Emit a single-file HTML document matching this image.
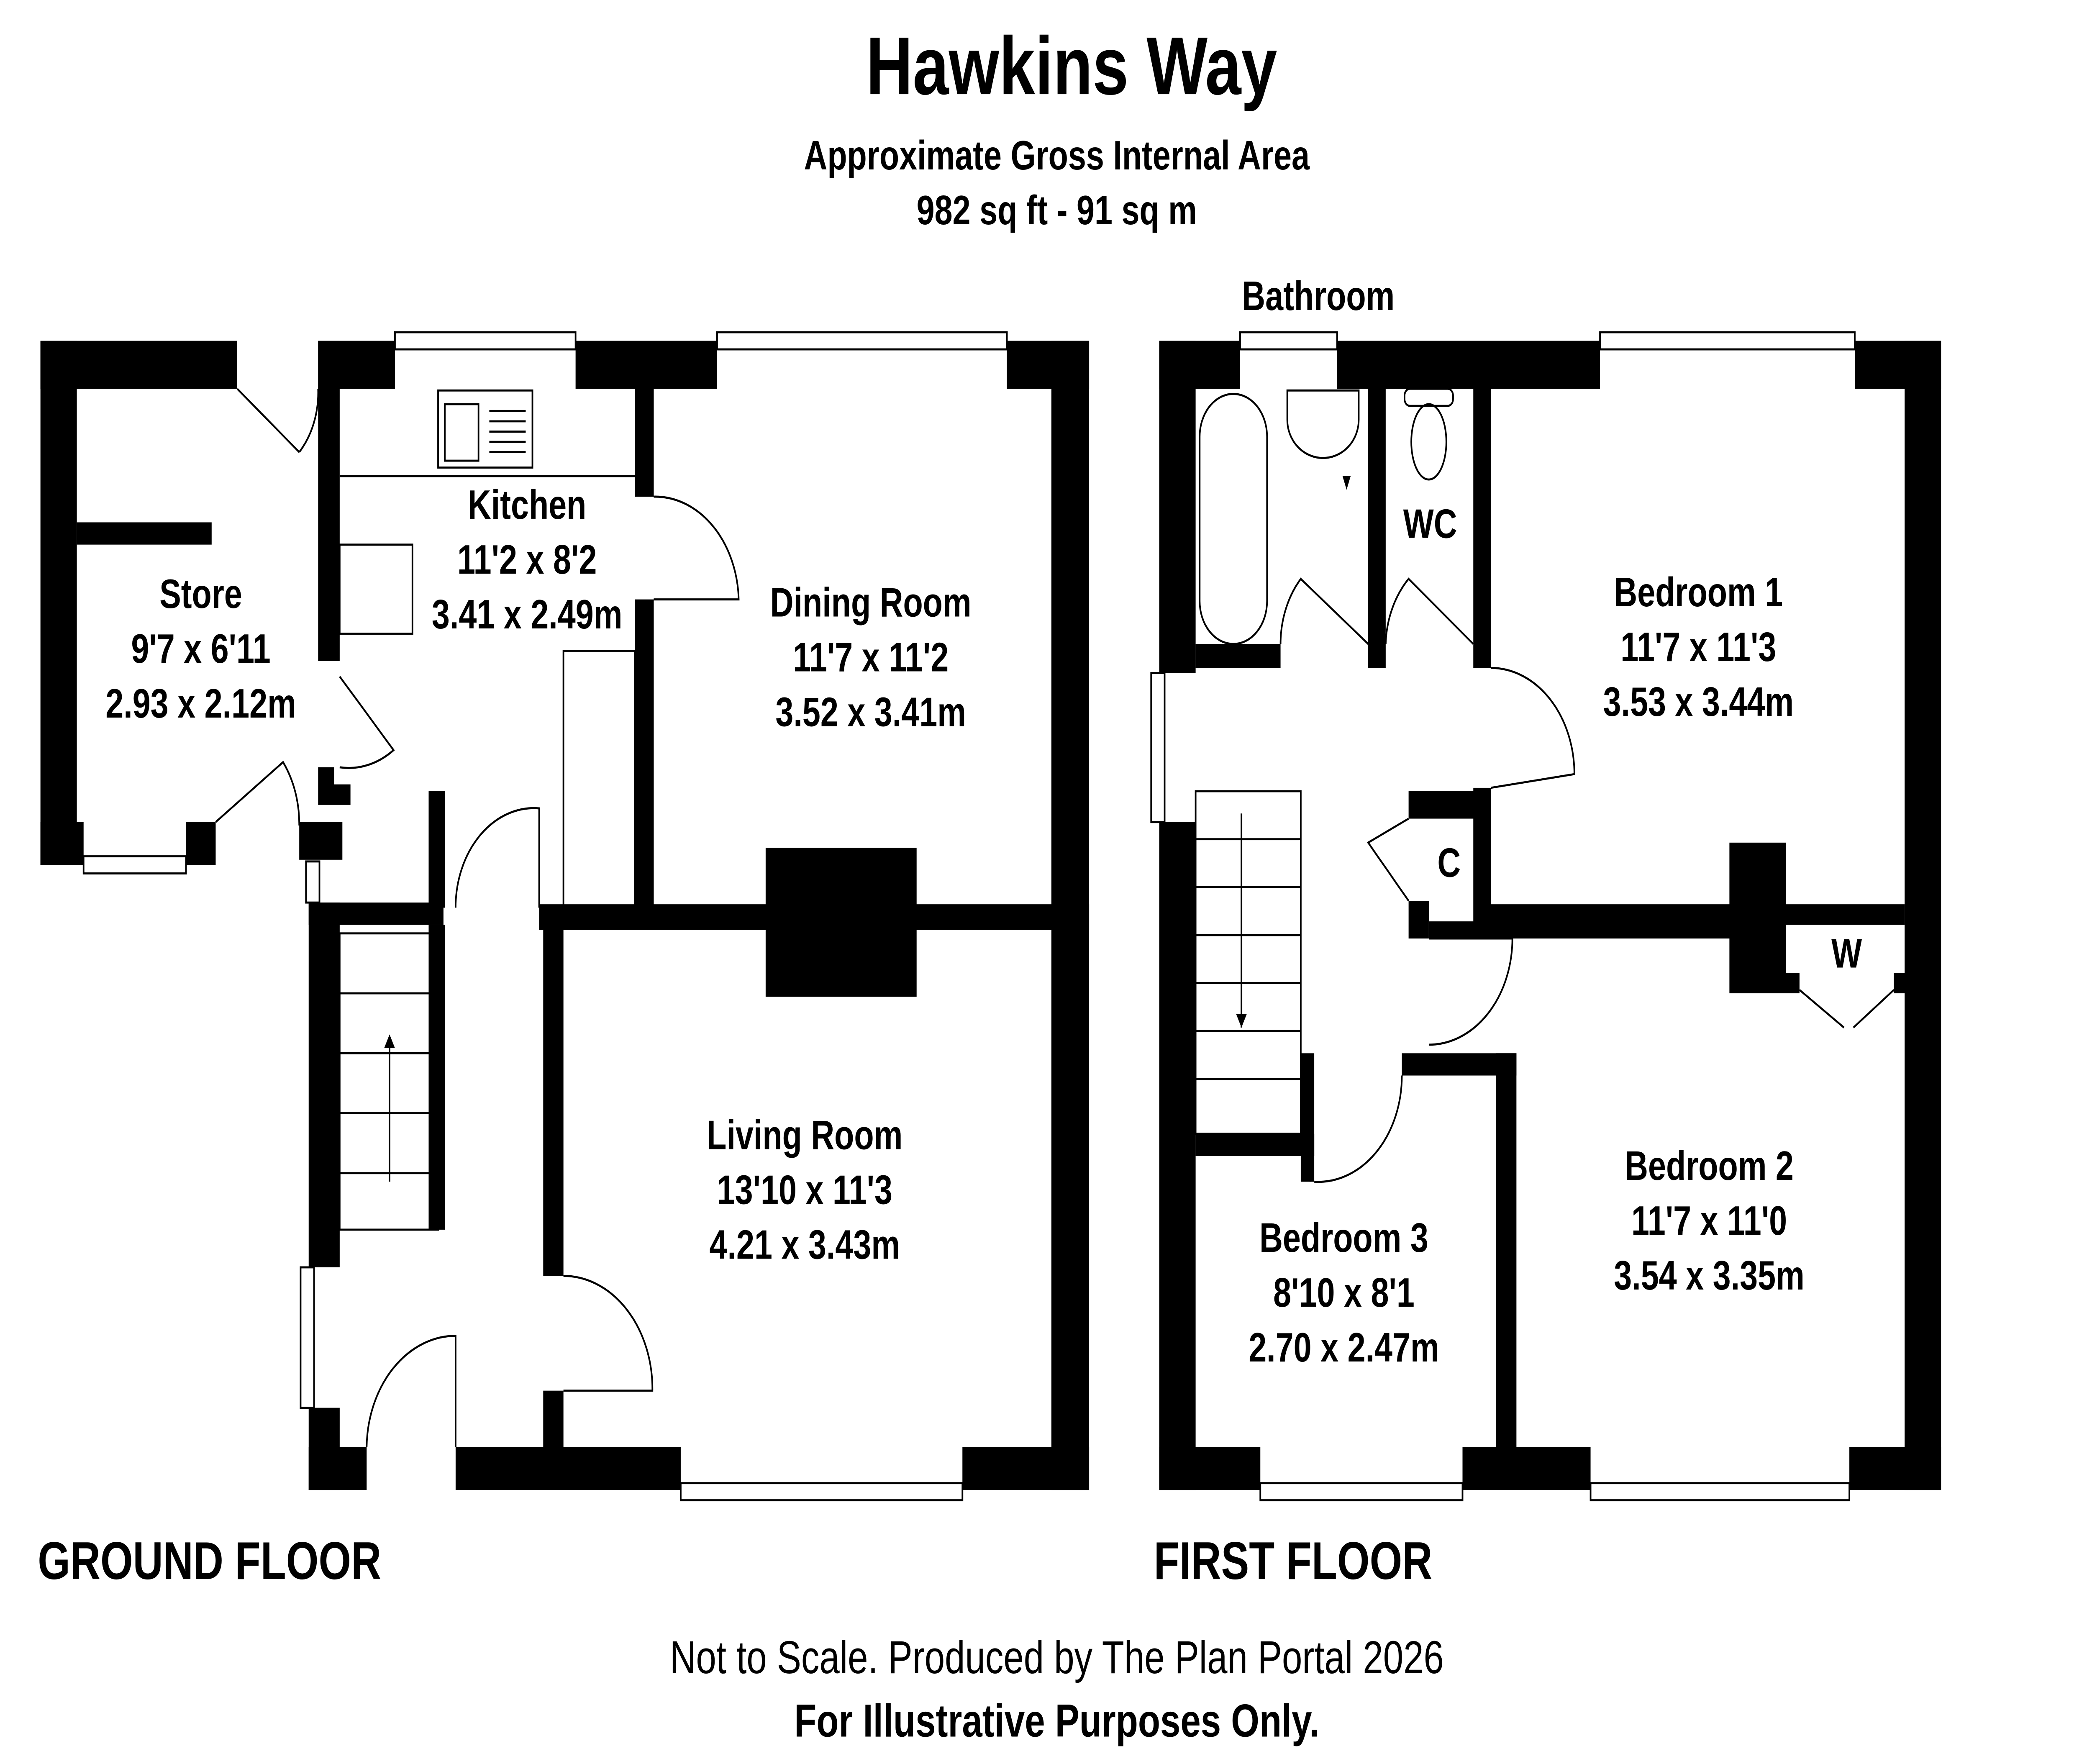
<!DOCTYPE html>
<html><head><meta charset="utf-8"><style>
html,body{margin:0;padding:0;background:#fff;width:100vw;height:100vh;overflow:hidden}
svg{display:block;width:100vw;height:100vh;position:absolute;left:0;top:0}
text{font-family:"Liberation Sans",Arial,sans-serif;font-weight:bold;fill:#000}
</style></head><body>
<svg viewBox="0 0 1552 1030" preserveAspectRatio="none" xmlns="http://www.w3.org/2000/svg">
<rect width="1552" height="1030" fill="#fff"/>
<g fill="#000">
<rect x="30" y="199" width="146" height="28"/>
<rect x="30" y="199" width="27" height="306"/>
<rect x="30" y="480" width="32" height="25"/>
<rect x="138" y="480" width="22" height="25"/>
<rect x="57" y="305" width="100" height="13"/>
<rect x="222" y="480" width="32" height="22"/>
<rect x="236" y="448" width="12" height="22"/>
<rect x="248" y="458" width="12" height="12"/>
<rect x="236" y="199" width="57" height="28"/>
<rect x="427" y="199" width="105" height="28"/>
<rect x="747" y="199" width="61" height="28"/>
<rect x="780" y="199" width="28" height="671"/>
<rect x="236" y="199" width="16" height="187"/>
<rect x="229" y="527" width="23" height="213"/>
<rect x="229" y="822" width="23" height="48"/>
<rect x="229" y="845" width="43" height="25"/>
<rect x="338" y="845" width="167" height="25"/>
<rect x="714" y="845" width="94" height="25"/>
<rect x="471" y="227" width="14" height="63"/>
<rect x="471" y="350" width="14" height="180"/>
<rect x="229" y="527" width="100" height="13"/>
<rect x="400" y="528" width="408" height="15"/>
<rect x="568" y="495" width="112" height="87"/>
<rect x="403" y="543" width="15" height="202"/>
<rect x="403" y="812" width="15" height="33"/>
<rect x="318" y="462" width="12" height="68"/>
<rect x="318" y="540" width="12" height="178"/>
<rect x="860" y="199" width="60" height="28"/>
<rect x="992" y="199" width="195" height="28"/>
<rect x="1376" y="199" width="64" height="28"/>
<rect x="860" y="199" width="27" height="194"/>
<rect x="860" y="480" width="27" height="390"/>
<rect x="1413" y="199" width="27" height="671"/>
<rect x="860" y="845" width="75" height="25"/>
<rect x="1085" y="845" width="95" height="25"/>
<rect x="1372" y="845" width="68" height="25"/>
<rect x="887" y="376" width="63" height="14"/>
<rect x="1015" y="227" width="13" height="163"/>
<rect x="1093" y="227" width="13" height="163"/>
<rect x="1093" y="460" width="13" height="80"/>
<rect x="1045" y="462" width="60" height="16"/>
<rect x="1045" y="526" width="15" height="22"/>
<rect x="1106" y="528" width="307" height="12"/>
<rect x="1060" y="538" width="225" height="10"/>
<rect x="1283" y="492" width="42" height="88"/>
<rect x="1405" y="568" width="10" height="12"/>
<rect x="1325" y="568" width="10" height="12"/>
<rect x="1110" y="615" width="15" height="230"/>
<rect x="1040" y="615" width="85" height="13"/>
<rect x="887" y="662" width="88" height="13"/>
<rect x="965" y="615" width="10" height="75"/>
</g>
<g fill="none" stroke="#000" stroke-width="1.2">
<rect x="293" y="194" width="134" height="10"/>
<rect x="532" y="194" width="215" height="10"/>
<rect x="62" y="500" width="76" height="10"/>
<rect x="505" y="866" width="209" height="10"/>
<rect x="223" y="740" width="10" height="82"/>
<rect x="227" y="503" width="10" height="24"/>
<rect x="920" y="194" width="72" height="10"/>
<rect x="1187" y="194" width="189" height="10"/>
<rect x="935" y="866" width="150" height="10"/>
<rect x="1180" y="866" width="192" height="10"/>
<rect x="854" y="393" width="10" height="87"/>
<line x1="252" y1="278" x2="471" y2="278"/>
<rect x="325" y="228" width="70" height="45"/>
<rect x="330" y="236" width="25" height="33"/>
<line x1="363" y1="240" x2="390" y2="240"/><line x1="363" y1="246" x2="390" y2="246"/><line x1="363" y1="252" x2="390" y2="252"/><line x1="363" y1="258" x2="390" y2="258"/><line x1="363" y1="264" x2="390" y2="264"/>
<rect x="252" y="318" width="54" height="52"/>
<rect x="418" y="380" width="53" height="150"/>
<rect x="252" y="545" width="73" height="173"/>
<line x1="252" y1="580" x2="325" y2="580"/><line x1="252" y1="615" x2="325" y2="615"/><line x1="252" y1="650" x2="325" y2="650"/><line x1="252" y1="685" x2="325" y2="685"/>
<line x1="289" y1="690" x2="289" y2="608"/>
<rect x="887" y="462" width="78" height="200"/>
<line x1="887" y1="490" x2="965" y2="490"/><line x1="887" y1="518" x2="965" y2="518"/><line x1="887" y1="546" x2="965" y2="546"/><line x1="887" y1="574" x2="965" y2="574"/><line x1="887" y1="602" x2="965" y2="602"/><line x1="887" y1="630" x2="965" y2="630"/>
<line x1="921" y1="475" x2="921" y2="600"/>
<path d="M176 227 L222 264 M222 264 A50 50 0 0 0 236 227"/>
<path d="M252 395 L292 438 A58 58 0 0 1 252 448"/>
<path d="M160 480 L210 445 A60 60 0 0 1 222 482"/>
<path d="M485 350 L548 350 A62 62 0 0 0 485 290"/>
<path d="M338 530 A58 58 0 0 1 400 472 L400 530"/>
<path d="M418 745 A66 66 0 0 1 484 812 L418 812"/>
<path d="M272 845 A66 66 0 0 1 338 780 L338 845"/>
<rect x="890" y="230" width="50" height="146" rx="25"/>
<path d="M955 228 L1008 228 L1008 245 A26 22 0 0 1 955 245 Z"/>
<ellipse cx="1060" cy="258" rx="13" ry="22"/>
<rect x="1042" y="227" width="36" height="10" rx="4"/>
<path d="M950 376 A56 56 0 0 1 965 338 L1015 376"/>
<path d="M1028 376 A56 56 0 0 1 1045 338 L1093 376"/>
<path d="M1106 390 A62 62 0 0 1 1168 452 L1106 460"/>
<path d="M1045 478 L1015 492 L1045 526"/>
<path d="M1060 548 L1122 548 A62 62 0 0 1 1060 610"/>
<path d="M975 690 A62 62 0 0 0 1040 628"/>
<line x1="972" y1="628" x2="972" y2="690"/>
<path d="M1335 578 L1368 600 M1375 600 L1405 578"/>
</g>
<g fill="#000"><path d="M285 612 L289 604 L293 612 Z"/><path d="M917 592 L921 600 L925 592 Z"/><path d="M996 278 L999 286 L1002 278 Z"/></g>
<text x="795" y="55" font-size="48" text-anchor="middle">Hawkins Way</text>
<text x="784" y="99" font-size="24" text-anchor="middle">Approximate Gross Internal Area</text>
<text x="784" y="131" font-size="24" text-anchor="middle">982 sq ft - 91 sq m</text>
<text x="978" y="181" font-size="24" text-anchor="middle">Bathroom</text>
<g font-size="24" text-anchor="middle">
<text x="149" y="355">Store</text><text x="149" y="387">9'7 x 6'11</text><text x="149" y="419">2.93 x 2.12m</text>
<text x="391" y="303">Kitchen</text><text x="391" y="335">11'2 x 8'2</text><text x="391" y="367">3.41 x 2.49m</text>
<text x="646" y="360">Dining Room</text><text x="646" y="392">11'7 x 11'2</text><text x="646" y="424">3.52 x 3.41m</text>
<text x="597" y="671">Living Room</text><text x="597" y="703">13'10 x 11'3</text><text x="597" y="735">4.21 x 3.43m</text>
<text x="1260" y="354">Bedroom 1</text><text x="1260" y="386">11'7 x 11'3</text><text x="1260" y="418">3.53 x 3.44m</text>
<text x="1268" y="689">Bedroom 2</text><text x="1268" y="721">11'7 x 11'0</text><text x="1268" y="753">3.54 x 3.35m</text>
<text x="997" y="731">Bedroom 3</text><text x="997" y="763">8'10 x 8'1</text><text x="997" y="795">2.70 x 2.47m</text>
<text x="1061" y="314">WC</text><text x="1075" y="512">C</text><text x="1370" y="565">W</text>
</g>
<text x="28" y="922" font-size="31">GROUND FLOOR</text>
<text x="856" y="922" font-size="31">FIRST FLOOR</text>
<text x="784" y="977" font-size="27" text-anchor="middle" style="font-weight:normal">Not to Scale. Produced by The Plan Portal 2026</text>
<text x="784" y="1014" font-size="27" text-anchor="middle">For Illustrative Purposes Only.</text>
</svg>
</body></html>
